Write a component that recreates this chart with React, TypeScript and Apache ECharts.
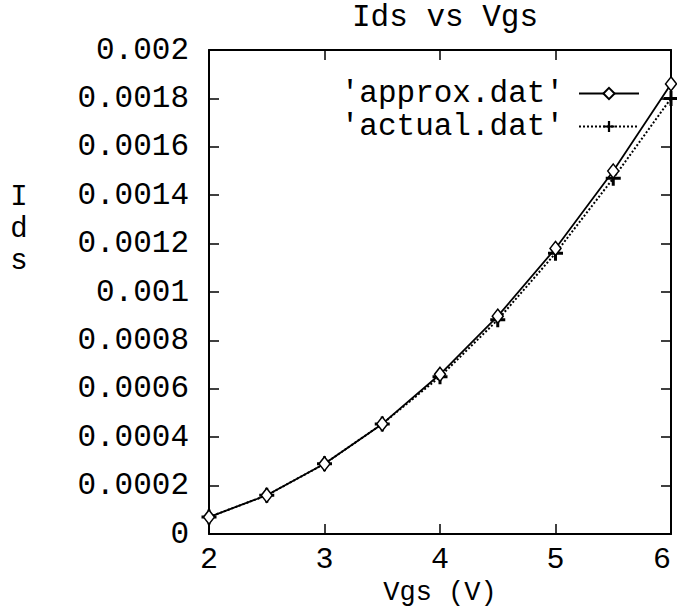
import React, { useEffect, useRef } from "react";
import * as echarts from "echarts";

const vgs = [2, 2.5, 3, 3.5, 4, 4.5, 5, 5.5, 6];
const approxIds = [0.00007, 0.00016, 0.00029, 0.000455, 0.00066, 0.0009, 0.00118, 0.0015, 0.00186];
const actualIds = [0.00007, 0.00016, 0.00029, 0.000455, 0.00065, 0.000885, 0.00116, 0.00147, 0.0018];
const seriesNames = ["'approx.dat'", "'actual.dat'"];
const titleText = "Ids vs Vgs";
const xName = "Vgs (V)";
const yNameLetters = ["I", "d", "s"];

const FONT = "'Liberation Mono', 'Courier New', monospace";
const FS = 31;
const txt = {
  fontFamily: FONT,
  fontSize: FS,
  color: "#000",
  fontWeight: "normal",
};

const PLUS = "path://M4,0H6V4H10V6H6V10H4V6H0V4H4Z";

export default function App() {
  const ref = useRef<HTMLDivElement>(null);
  useEffect(() => {
    if (!ref.current) return;
    const chart = echarts.init(ref.current, null, { renderer: "svg" });
    const axisCommon = {
      axisLine: { show: true, onZero: false, lineStyle: { color: "#000", width: 2 } },
      axisTick: { show: true, inside: true, length: 10, lineStyle: { color: "#000", width: 1.5 } },
      splitLine: { show: false },
    };
    chart.setOption({
      animation: false,
      backgroundColor: "#fff",
      title: {
        text: titleText,
        left: 440,
        top: -3,
        textAlign: "center",
        textStyle: { ...txt },
      },
      legend: {
        orient: "vertical",
        align: "right",
        right: 37,
        top: 78,
        padding: 0,
        itemWidth: 60,
        itemHeight: 14,
        itemGap: 2,
        textStyle: { ...txt, lineHeight: 16, padding: [0, 10, 12, 0] },
        data: seriesNames,
      },
      grid: {
        left: 209,
        right: 6,
        top: 50,
        bottom: 75,
        containLabel: false,
        outerBoundsMode: "none",
      },
      xAxis: [
        {
          type: "value",
          min: 2,
          max: 6,
          interval: 1,
          ...axisCommon,
          axisLabel: { ...txt, fontSize: 30, lineHeight: 24, margin: 14, alignMaxLabel: "right" },
          name: xName,
          nameLocation: "middle",
          nameGap: 59,
          nameMoveOverlap: false,
          nameTextStyle: { ...txt, fontSize: 27, lineHeight: 24, verticalAlign: "middle" },
        },
        {
          type: "value",
          position: "top",
          min: 2,
          max: 6,
          interval: 1,
          ...axisCommon,
          axisLabel: { show: false },
        },
      ],
      yAxis: [
        {
          type: "value",
          min: 0,
          max: 0.002,
          interval: 0.0002,
          ...axisCommon,
          axisLabel: {
            ...txt,
            margin: 20,
            formatter: (v: number) => String(parseFloat(v.toFixed(4))),
          },
        },
        {
          type: "value",
          position: "right",
          min: 0,
          max: 0.002,
          interval: 0.0002,
          ...axisCommon,
          axisLabel: { show: false },
        },
      ],
      graphic: yNameLetters.map((ch, i) => ({
        type: "text",
        x: 19,
        y: 197 + i * 32,
        style: {
          text: ch,
          fill: "#000",
          font: `29px 'Liberation Mono', 'Courier New', monospace`,
          align: "center",
          verticalAlign: "middle",
        },
      })),
      series: [
        {
          name: seriesNames[1],
          type: "line",
          data: vgs.map((x, i) => [x, actualIds[i]]),
          symbol: PLUS,
          symbolSize: 15,
          itemStyle: { color: "#000" },
          lineStyle: { color: "#000", width: 2, type: "dotted" },
          z: 2,
        },
        {
          name: seriesNames[0],
          type: "line",
          data: vgs.map((x, i) => [x, approxIds[i]]),
          symbol: "diamond",
          symbolSize: [11, 14],
          itemStyle: { color: "#fff", borderColor: "#000", borderWidth: 1.5 },
          lineStyle: { color: "#000", width: 1.8, type: "solid" },
          z: 3,
        },
      ],
    });
    return () => chart.dispose();
  }, []);
  return (
    <div
      ref={ref}
      style={{ position: "absolute", left: 0, top: 0, width: 677, height: 609, background: "#fff" }}
    />
  );
}
